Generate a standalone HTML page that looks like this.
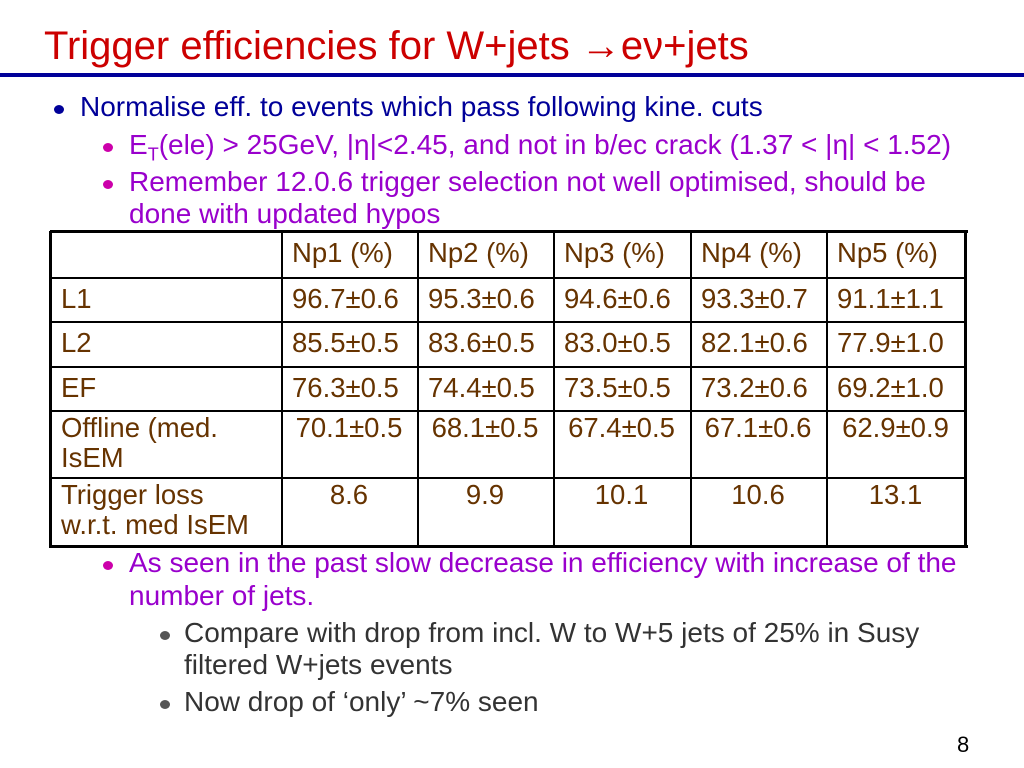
<!DOCTYPE html>
<html><head><meta charset="utf-8"><style>
body{margin:0;width:1024px;height:768px;background:#fff;position:relative;overflow:hidden;font-family:"Liberation Sans",sans-serif}
.a{position:absolute;white-space:nowrap}
.t{font-size:28px;line-height:28px}
.b1{color:#000099}.b2{color:#9900cc}.b3{color:#333}
.dot{position:absolute;width:10px;height:9px;border-radius:50%}
.cell{position:absolute;color:#663300;font-size:27.5px;line-height:30px;box-sizing:border-box;padding:3px 0 0 11px}
.c{text-align:center;padding-left:0}
.h{position:absolute;background:#000;height:2px}
.v{position:absolute;background:#000;width:2px}
</style></head><body>
<div class="a" style="left:44px;top:24px;font-size:40px;line-height:44px;color:#cc0000">Trigger efficiencies for W+jets &rarr;e&nu;+jets</div>
<div class="a" style="left:0;top:73px;width:1024px;height:4px;background:#000099"></div>

<div class="dot" style="left:54px;top:105px;background:#000099"></div>
<div class="a t b1" style="left:80px;top:93px">Normalise eff. to events which pass following kine. cuts</div>
<div class="dot" style="left:103px;top:143px;background:#cc00aa"></div>
<div class="a t b2" style="left:129px;top:131px">E<sub style="font-size:18px">T</sub>(ele) &gt; 25GeV, |&eta;|&lt;2.45, and not in b/ec crack (1.37 &lt; |&eta;| &lt; 1.52)</div>
<div class="dot" style="left:103px;top:180px;background:#cc00aa"></div>
<div class="a t b2" style="left:129px;top:168px">Remember 12.0.6 trigger selection not well optimised, should be</div>
<div class="a t b2" style="left:129px;top:200px">done with updated hypos</div>

<div id="tbl"></div>

<div class="dot" style="left:103px;top:561px;background:#cc00aa"></div>
<div class="a t b2" style="left:129px;top:549px">As seen in the past slow decrease in efficiency with increase of the</div>
<div class="a t b2" style="left:129px;top:582px">number of jets.</div>
<div class="dot" style="left:160px;top:631px;background:#555"></div>
<div class="a t b3" style="left:184px;top:619px">Compare with drop from incl. W to W+5 jets of 25% in Susy</div>
<div class="a t b3" style="left:184px;top:651px">filtered W+jets events</div>
<div class="dot" style="left:160px;top:700px;background:#555"></div>
<div class="a t b3" style="left:184px;top:688px">Now drop of ‘only’ ~7% seen</div>
<div class="a" style="left:957px;top:733px;font-size:22px;line-height:24px">8</div>

<script>
const headers=["","Np1 (%)","Np2 (%)","Np3 (%)","Np4 (%)","Np5 (%)"];
const rowLabels=["L1","L2","EF","Offline (med.<br>IsEM","Trigger loss<br>w.r.t. med IsEM"];
const rowL1=["96.7±0.6","95.3±0.6","94.6±0.6","93.3±0.7","91.1±1.1"];
const rowL2=["85.5±0.5","83.6±0.5","83.0±0.5","82.1±0.6","77.9±1.0"];
const rowEF=["76.3±0.5","74.4±0.5","73.5±0.5","73.2±0.6","69.2±1.0"];
const rowOff=["70.1±0.5","68.1±0.5","67.4±0.5","67.1±0.6","62.9±0.9"];
const rowLoss=["8.6","9.9","10.1","10.6","13.1"];
const rows=[rowL1,rowL2,rowEF,rowOff,rowLoss];
const X=[50,281,417,553,690,826,965],Y=[231,277,321,366,410,477,546];
const t=document.getElementById('tbl');
function cell(x0,x1,y0,y1,html,center,name){
 const d=document.createElement('div');d.className='cell'+(center?' c':'');
 d.style.left=x0+'px';d.style.top=y0+'px';d.style.width=(x1-x0)+'px';d.style.height=(y1-y0)+'px';
 d.innerHTML=html;
 
 
 t.appendChild(d);}
for(let c=1;c<6;c++)cell(X[c],X[c+1],Y[0]+4,Y[1],headers[c],false,'header-np'+c);
for(let r=0;r<5;r++){
 cell(X[0],X[1],Y[r+1]+(r<3?4:0),Y[r+2],rowLabels[r],false,'row-label-'+(r+1));
 for(let c=0;c<5;c++){const ctr=r>=3;cell(X[c+1],X[c+2],Y[r+1]+(r<3?4:0),Y[r+2],rows[r][c],ctr,'value-r'+(r+1)+'-np'+(c+1));}
}
for(let i=0;i<Y.length;i++){const l=document.createElement('div');const outer=(i==0||i==Y.length-1);l.className='h';l.style.left=X[0]+'px';l.style.width=(X[6]-X[0]+(outer?3:0))+'px';l.style.top=(Y[i]-(outer?1:0))+'px';l.style.height=(outer?3:2)+'px';


t.appendChild(l);}
for(let i=0;i<X.length;i++){const l=document.createElement('div');const outer=(i==0||i==X.length-1);l.className='v';l.style.left=(X[i]-(outer?1:0))+'px';l.style.top=Y[0]+'px';l.style.height=(Y[6]-Y[0]+2)+'px';l.style.width=(outer?3:2)+'px';


t.appendChild(l);}
</script>
</body></html>
